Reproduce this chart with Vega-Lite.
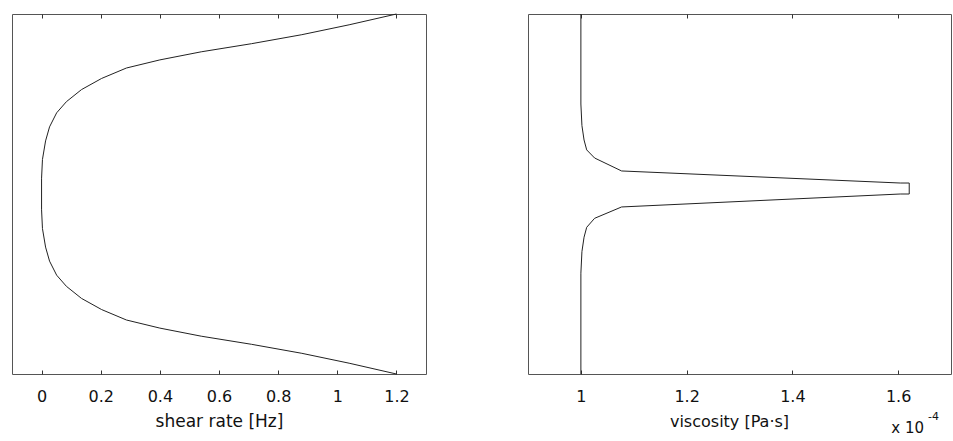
{
  "$schema": "https://vega.github.io/schema/vega-lite/v6.json",
  "padding": {"left": 11, "top": 11, "right": 0, "bottom": 0},
  "background": "white",
  "spacing": 100,
  "config": {
    "view": {"stroke": "#555555", "strokeWidth": 1},
    "font": "DejaVu Sans",
    "axis": {
      "labelFont": "DejaVu Sans", "titleFont": "DejaVu Sans",
      "labelFontSize": 16, "titleFontSize": 17, "titleFontWeight": "normal",
      "labelColor": "#111111", "titleColor": "#111111",
      "domain": false, "grid": false, "tickColor": "#333333",
      "tickSize": -4, "labelPadding": 18, "titlePadding": 9
    }
  },
  "datasets": {
    "shear": [
      {"ord": 1, "r": 1.0, "s": 1.2},
      {"ord": 2, "r": 0.94, "s": 1.04},
      {"ord": 3, "r": 0.885, "s": 0.88},
      {"ord": 4, "r": 0.835, "s": 0.71},
      {"ord": 5, "r": 0.79, "s": 0.54},
      {"ord": 6, "r": 0.745, "s": 0.40},
      {"ord": 7, "r": 0.70, "s": 0.287},
      {"ord": 8, "r": 0.642, "s": 0.203},
      {"ord": 9, "r": 0.58, "s": 0.135},
      {"ord": 10, "r": 0.513, "s": 0.084},
      {"ord": 11, "r": 0.451, "s": 0.051},
      {"ord": 12, "r": 0.373, "s": 0.027},
      {"ord": 13, "r": 0.295, "s": 0.0135},
      {"ord": 14, "r": 0.192, "s": 0.003},
      {"ord": 15, "r": 0.088, "s": 0.0},
      {"ord": 16, "r": 0.0, "s": 0.0},
      {"ord": 17, "r": -0.088, "s": 0.0},
      {"ord": 18, "r": -0.192, "s": 0.003},
      {"ord": 19, "r": -0.295, "s": 0.0135},
      {"ord": 20, "r": -0.373, "s": 0.027},
      {"ord": 21, "r": -0.451, "s": 0.051},
      {"ord": 22, "r": -0.513, "s": 0.084},
      {"ord": 23, "r": -0.58, "s": 0.135},
      {"ord": 24, "r": -0.642, "s": 0.203},
      {"ord": 25, "r": -0.70, "s": 0.287},
      {"ord": 26, "r": -0.745, "s": 0.40},
      {"ord": 27, "r": -0.79, "s": 0.54},
      {"ord": 28, "r": -0.835, "s": 0.71},
      {"ord": 29, "r": -0.885, "s": 0.88},
      {"ord": 30, "r": -0.94, "s": 1.04},
      {"ord": 31, "r": -1.0, "s": 1.2}
    ],
    "visc": [
      {"ord": 1, "r": 1.0, "v": 1.0},
      {"ord": 2, "r": 0.5, "v": 1.0},
      {"ord": 3, "r": 0.38, "v": 1.002},
      {"ord": 4, "r": 0.30, "v": 1.006},
      {"ord": 5, "r": 0.245, "v": 1.011},
      {"ord": 6, "r": 0.20, "v": 1.026},
      {"ord": 7, "r": 0.128, "v": 1.077},
      {"ord": 8, "r": 0.061, "v": 1.604},
      {"ord": 9, "r": 0.061, "v": 1.621},
      {"ord": 10, "r": 0.0, "v": 1.621},
      {"ord": 11, "r": 0.0, "v": 1.604},
      {"ord": 12, "r": -0.072, "v": 1.077},
      {"ord": 13, "r": -0.135, "v": 1.026},
      {"ord": 14, "r": -0.185, "v": 1.011},
      {"ord": 15, "r": -0.24, "v": 1.006},
      {"ord": 16, "r": -0.32, "v": 1.002},
      {"ord": 17, "r": -0.44, "v": 1.0},
      {"ord": 18, "r": -1.0, "v": 1.0}
    ],
    "unit": [{"a": "x 10", "b": "-4"}]
  },
  "hconcat": [
    {
      "width": 414, "height": 360,
      "data": {"name": "shear"},
      "layer": [
        {
          "mark": {"type": "line", "color": "#222222", "strokeWidth": 1},
          "encoding": {
            "x": {"field": "s", "type": "quantitative", "scale": {"domain": [-0.1, 1.3], "nice": false, "zero": false},
                  "axis": {"orient": "bottom", "values": [0, 0.2, 0.4, 0.6, 0.8, 1, 1.2], "format": "~g", "title": "shear rate [Hz]"}},
            "y": {"field": "r", "type": "quantitative", "scale": {"domain": [-1, 1], "nice": false, "zero": false}, "axis": null},
            "order": {"field": "ord"}
          }
        },
        {
          "mark": {"type": "line", "strokeOpacity": 0},
          "encoding": {
            "x": {"field": "s", "type": "quantitative", "scale": {"domain": [-0.1, 1.3], "nice": false, "zero": false},
                  "axis": {"orient": "top", "values": [0, 0.2, 0.4, 0.6, 0.8, 1, 1.2], "labels": false, "title": null}},
            "y": {"field": "r", "type": "quantitative", "axis": null},
            "order": {"field": "ord"}
          }
        }
      ],
      "resolve": {"axis": {"x": "independent"}}
    },
    {
      "width": 423, "height": 360,
      "layer": [
        {
          "data": {"name": "visc"},
          "mark": {"type": "line", "color": "#222222", "strokeWidth": 1},
          "encoding": {
            "x": {"field": "v", "type": "quantitative", "scale": {"domain": [0.9, 1.7], "nice": false, "zero": false},
                  "axis": {"orient": "bottom", "values": [1, 1.2, 1.4, 1.6], "format": "~g", "title": "viscosity [Pa·s]", "titleX": 201, "titleFontSize": 16, "titlePadding": 9}},
            "y": {"field": "r", "type": "quantitative", "scale": {"domain": [-1, 1], "nice": false, "zero": false}, "axis": null},
            "order": {"field": "ord"}
          }
        },
        {
          "data": {"name": "visc"},
          "mark": {"type": "line", "strokeOpacity": 0},
          "encoding": {
            "x": {"field": "v", "type": "quantitative",
                  "axis": {"orient": "top", "values": [1, 1.2, 1.4, 1.6], "labels": false, "title": null}},
            "y": {"field": "r", "type": "quantitative", "axis": null},
            "order": {"field": "ord"}
          }
        },
        {
          "data": {"name": "unit"},
          "mark": {"type": "text", "align": "right", "baseline": "alphabetic", "dx": -27, "dy": 59, "fontSize": 15, "font": "DejaVu Sans", "color": "#111111", "clip": false},
          "encoding": {
            "x": {"datum": 1.7, "type": "quantitative", "axis": null},
            "y": {"datum": -1, "type": "quantitative", "axis": null},
            "text": {"field": "a"}
          }
        },
        {
          "data": {"name": "unit"},
          "mark": {"type": "text", "align": "right", "baseline": "alphabetic", "dx": -12, "dy": 46, "fontSize": 11, "font": "DejaVu Sans", "color": "#111111", "clip": false},
          "encoding": {
            "x": {"datum": 1.7, "type": "quantitative", "axis": null},
            "y": {"datum": -1, "type": "quantitative", "axis": null},
            "text": {"field": "b"}
          }
        }
      ],
      "resolve": {"axis": {"x": "independent"}}
    }
  ]
}
